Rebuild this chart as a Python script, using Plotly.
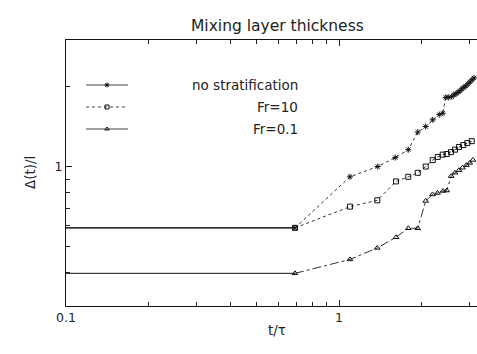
import plotly.graph_objects as go

# ---- data ----
nostrat_t = [0.05, 0.69, 1.097, 1.387, 1.608, 1.794, 1.943, 2.078, 2.204, 2.330, 2.399,
             2.460, 2.514, 2.587, 2.638, 2.683, 2.729, 2.775, 2.822, 2.870, 2.919,
             2.969, 3.020, 3.071, 3.123]
nostrat_d = [0.59, 0.59, 0.918, 1.003, 1.084, 1.161, 1.351, 1.419, 1.503, 1.573, 1.591,
             1.825, 1.825, 1.836, 1.867, 1.884, 1.908, 1.932, 1.966, 1.992, 2.018,
             2.053, 2.088, 2.125, 2.161]

fr10_t = [0.05, 0.69, 1.097, 1.381, 1.618, 1.794, 1.943, 2.078, 2.204, 2.299, 2.399,
          2.481, 2.572, 2.660, 2.752, 2.853, 2.951, 3.063]
fr10_d = [0.59, 0.59, 0.709, 0.749, 0.882, 0.918, 0.950, 1.003, 1.060, 1.090, 1.112,
          1.118, 1.137, 1.161, 1.188, 1.208, 1.229, 1.250]

fr01_t = [0.05, 0.69, 1.097, 1.381, 1.618, 1.794, 1.943, 2.078, 2.201, 2.296, 2.404,
          2.481, 2.576, 2.660, 2.752, 2.834, 2.926, 3.012, 3.096]
fr01_d = [0.398, 0.398, 0.449, 0.496, 0.544, 0.588, 0.588, 0.745, 0.788, 0.798, 0.812,
          0.815, 0.923, 0.951, 0.972, 0.993, 1.015, 1.035, 1.062]

series_names = ["no stratification", "Fr=10", "Fr=0.1"]
series_symbols = ["asterisk-open", "square-open", "triangle-up-open"]
series_sizes = [5, 5, 5]
series_dash = ["dot", "dot", "dashdot"]

x_major = [0.1, 1]
x_minor = [0.2, 0.3, 0.4, 0.5, 0.6, 0.7, 0.8, 0.9, 2, 3]
y_major = [1]
y_minor = [0.3, 0.4, 0.5, 0.6, 0.7, 0.8, 0.9, 2, 3]

FONT = "DejaVu Sans, Verdana, sans-serif"
INK = "#222222"

fig = go.Figure()

series = [(nostrat_t, nostrat_d), (fr10_t, fr10_d), (fr01_t, fr01_d)]
for (t, d), name, sym, sz, dash in zip(series, series_names, series_symbols, series_sizes, series_dash):
    # flat initial part (solid)
    fig.add_trace(go.Scatter(x=t[:2], y=d[:2], mode="lines",
                             line=dict(color="#111111", width=1),
                             showlegend=False, hoverinfo="skip"))
    # growth part
    fig.add_trace(go.Scatter(x=t[1:], y=d[1:], mode="lines+markers", name=name,
                             line=dict(color="#333333", width=1, dash=dash),
                             marker=dict(symbol=sym, size=sz,
                                         color="#111111", line=dict(width=1, color="#111111")),
                             showlegend=False))

# ---- hand-made legend on a hidden pixel-like overlay axis ----
leg_y = [85, 107, 129]
leg_dash = ["solid", "dot", "solid"]
for yy, sym, dash, name in zip(leg_y, series_symbols, leg_dash, series_names):
    fig.add_trace(go.Scatter(x=[86, 128], y=[yy, yy], mode="lines", xaxis="x2", yaxis="y2",
                             line=dict(color="#444444", width=1.2, dash=dash),
                             showlegend=False, hoverinfo="skip"))
    fig.add_trace(go.Scatter(x=[107], y=[yy], mode="markers", xaxis="x2", yaxis="y2",
                             marker=dict(symbol=sym, size=4, color="#111111",
                                         line=dict(width=1, color="#111111")),
                             showlegend=False, hoverinfo="skip"))
    fig.add_annotation(x=300, y=yy, xref="x2", yref="y2", text=name, showarrow=False,
                       xanchor="right", yanchor="middle",
                       font=dict(family=FONT, size=13.5, color=INK))

fig.update_layout(
    width=477, height=354,
    margin=dict(l=66, r=0, t=40, b=48),
    paper_bgcolor="white", plot_bgcolor="white",
    showlegend=False,
    font=dict(family=FONT, size=12, color=INK),
    xaxis=dict(type="log", range=[-1, 0.5055],
               tickvals=x_major, ticktext=["0.1", "1"],
               ticks="inside", ticklen=6, tickwidth=1, tickcolor="#222",
               minor=dict(tickvals=x_minor, ticks="inside", ticklen=4, tickcolor="#222", showgrid=False),
               showline=True, linecolor="#111", linewidth=1, mirror="ticks",
               showgrid=False, zeroline=False,
               tickfont=dict(family=FONT, size=12.5, color=INK)),
    yaxis=dict(type="log", range=[-0.5229, 0.4771],
               tickvals=y_major, ticktext=["1"],
               ticks="inside", ticklen=6, tickwidth=1, tickcolor="#222",
               minor=dict(tickvals=y_minor, ticks="inside", ticklen=4, tickcolor="#222", showgrid=False),
               showline=True, linecolor="#111", linewidth=1, mirror=False,
               showgrid=False, zeroline=False,
               tickfont=dict(family=FONT, size=12.5, color=INK)),
    xaxis2=dict(overlaying="x", range=[66, 477], visible=False, fixedrange=True),
    yaxis2=dict(overlaying="y", range=[306, 40], visible=False, fixedrange=True),
)

# title and axis titles (paper coordinates; plot area is 66..477 x 40..306 px)
fig.add_annotation(x=(277 - 66) / 411, y=(306 - 15) / 266, xref="paper", yref="paper",
                   text="Mixing layer thickness", showarrow=False,
                   font=dict(family=FONT, size=15.5, color=INK))
fig.add_annotation(x=(277 - 66) / 411, y=(306 - 340) / 266, xref="paper", yref="paper",
                   text="t/τ", showarrow=False,
                   font=dict(family=FONT, size=13.5, color=INK))
fig.add_annotation(x=(20 - 66) / 411, y=(306 - 173) / 266, xref="paper", yref="paper",
                   text="Δ(t)/l", showarrow=False, textangle=-90,
                   font=dict(family=FONT, size=13.5, color=INK))

fig.write_html("out.html")
